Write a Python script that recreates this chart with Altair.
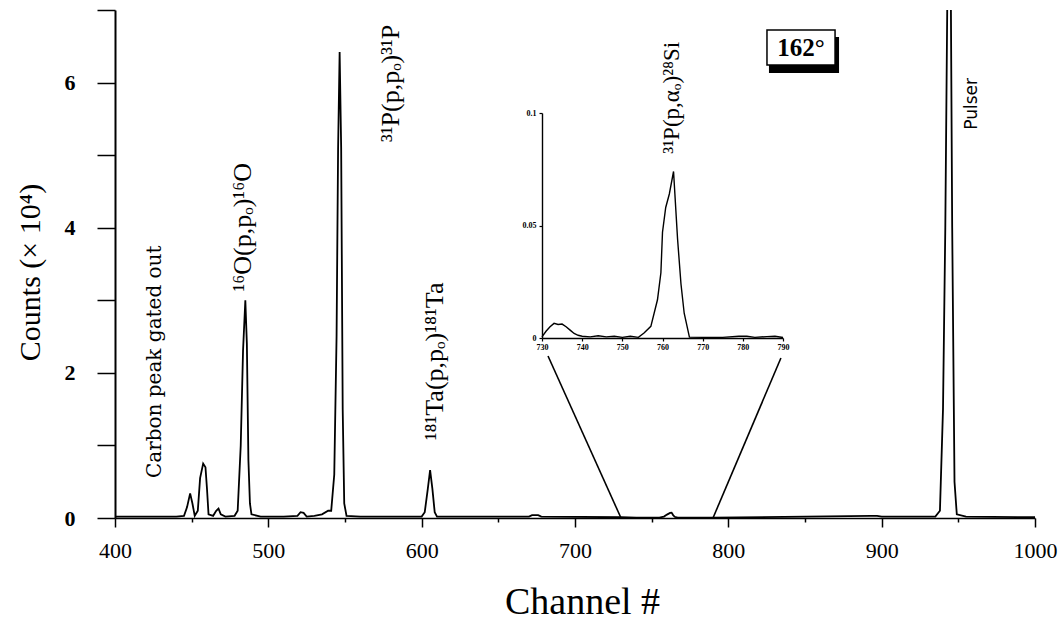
import altair as alt
import pandas as pd

# ---------------- data ----------------
# main spectrum: channel, counts (x 10^4)
main_channel = [400, 420, 440, 445, 447, 449, 450.5, 452, 454, 455.5, 457.5, 459, 460, 461,
                464, 466, 467.5, 469, 472, 478, 480, 482, 483.5, 485, 486, 487, 488, 489,
                495, 510, 519, 521, 523, 525, 530, 535, 539, 541, 543, 544.5, 545.5, 546.5,
                547.5, 548.5, 549.5, 551, 560, 600, 602, 604, 605.5, 607, 608.5, 610, 670,
                672, 676, 678, 730, 740, 755, 758, 760, 762, 763, 764, 765, 767, 790, 893,
                897, 900, 935, 938, 940, 941.5, 943, 945, 946, 947.5, 949, 955, 1000]
main_counts = [0.02, 0.02, 0.02, 0.03, 0.15, 0.34, 0.2, 0.03, 0.1, 0.55, 0.75, 0.7, 0.4, 0.05,
               0.03, 0.1, 0.13, 0.05, 0.02, 0.03, 0.1, 1.0, 2.3, 3.0, 2.4, 0.8, 0.2, 0.05,
               0.02, 0.02, 0.03, 0.08, 0.07, 0.02, 0.03, 0.05, 0.1, 0.1, 0.6, 2.5, 5.1, 6.42,
               5.1, 1.5, 0.2, 0.03, 0.02, 0.02, 0.08, 0.4, 0.66, 0.4, 0.08, 0.02, 0.02,
               0.04, 0.04, 0.02, 0.01, 0.005, 0.005, 0.02, 0.047, 0.07, 0.074, 0.04, 0.017, 0.005, 0.005, 0.03,
               0.03, 0.02, 0.02, 0.1, 1.5, 4.0, 7.6, 7.6, 4.0, 0.5, 0.05, 0.02, 0.01]

# inset spectrum: channel, counts (x 10^4)
inset_channel = [730, 731, 732, 733, 734, 735, 736, 737, 738, 739, 740, 742, 744, 746, 748, 750,
                 752, 754, 755.4, 757.1, 758.75, 759.6, 760, 760.8, 761.7, 762.75, 763.75,
                 764.6, 765.4, 766.7, 770, 775, 779, 781, 783, 786, 788, 790]
inset_counts = [0.0005, 0.003, 0.005, 0.0065, 0.006, 0.0062, 0.005, 0.0035, 0.002, 0.0012, 0.0008,
                0.0005, 0.001, 0.0005, 0.0008, 0.0003, 0.0008, 0.0003, 0.0022, 0.0052, 0.017,
                0.029, 0.047, 0.058, 0.064, 0.074, 0.044, 0.024, 0.011, 0.0004, 0.0003, 0.0003,
                0.0008, 0.0008, 0.0003, 0.0006, 0.0008, 0.0002]

x_ticks = list(range(400, 1001, 50))
y_ticks = [0, 1, 2, 3, 4, 5, 6, 7]
inset_x_ticks = [730, 740, 750, 760, 770, 780, 790]
inset_y_ticks = [0, 0.05, 0.1]

reaction_labels = ["¹⁶O(p,pₒ)¹⁶O", "³¹P(p,pₒ)³¹P", "¹⁸¹Ta(p,pₒ)¹⁸¹Ta"]
reaction_x = [483.5, 580.0, 608.5]
reaction_y = [3.12, 5.18, 1.07]

inset_reaction_label = ["³¹P(p,αₒ)²⁸Si"]
inset_reaction_x = [763.3]
inset_reaction_y = [5.02]

carbon_label = ["Carbon peak gated out"]
carbon_x = [426.1]
carbon_y = [0.55]

pulser_label = ["Pulser"]
pulser_x = [958.6]
pulser_y = [5.35]

angle_label = ["162°"]

# ---------------- layout ----------------
W, H = 920, 508
FONT = "Liberation Serif"

main_df = pd.DataFrame({"x": main_channel, "y": main_counts})
inset_df = pd.DataFrame({"ix": inset_channel, "iy": inset_counts})

xs = alt.Scale(domain=[400, 1000], nice=False, zero=False)
ys = alt.Scale(domain=[0, 7], nice=False, zero=True)

x_axis = alt.Axis(
    values=x_ticks, format="d",
    labelExpr="datum.value % 100 == 0 ? datum.label : ''",
    tickSize={"condition": {"test": "datum.value % 100 == 0", "value": 9}, "value": 4},
    labelFont=FONT, labelFontSize=22, labelColor="black", labelPadding=13,
    labelFlush=False, labelOverlap=False,
    tickColor="black", tickWidth=1.5, domainColor="black", domainWidth=1.5,
    grid=False, title="Channel #", titleFont=FONT, titleFontSize=38,
    titleFontWeight="normal", titleColor="black", titleX=467, titleY=95,
    titleBaseline="alphabetic",
)
y_axis = alt.Axis(
    values=y_ticks, format="d", labelExpr="datum.value % 2 == 0 ? datum.label : ''",
    tickSize=18, labelFont=FONT, labelFontSize=22, labelFontWeight="bold",
    labelColor="black", labelPadding=22, labelFlush=False, labelOverlap=False,
    tickColor="black", tickWidth=1.5, domainColor="black", domainWidth=2,
    grid=False, title="Counts (× 10⁴)", titleFont=FONT, titleFontSize=30,
    titleFontWeight="normal", titleColor="black", titleX=-85, titleY=262,
    titleBaseline="middle", titleAngle=270,
)

line = alt.Chart(main_df).mark_line(color="black", strokeWidth=1.8, clip=True).encode(
    x=alt.X("x:Q", scale=xs, axis=x_axis),
    y=alt.Y("y:Q", scale=ys, axis=y_axis),
)

conn_df = pd.DataFrame({"x": [682.4, 834.3], "y": [2.232, 2.205],
                        "x2": [730, 790], "y2": [0, 0]})
connectors = alt.Chart(conn_df).mark_rule(color="black", strokeWidth=1.6).encode(
    x="x:Q", y="y:Q", x2="x2:Q", y2="y2:Q")

react_df = pd.DataFrame({"x": reaction_x, "y": reaction_y, "t": reaction_labels})
react = alt.Chart(react_df).mark_text(angle=270, align="left", baseline="middle",
                                      font=FONT, fontSize=26, color="black").encode(
    x="x:Q", y="y:Q", text="t:N")

ireact_df = pd.DataFrame({"x": inset_reaction_x, "y": inset_reaction_y,
                          "t": inset_reaction_label})
ireact = alt.Chart(ireact_df).mark_text(angle=270, align="left", baseline="middle",
                                        font=FONT, fontSize=23, color="black").encode(
    x="x:Q", y="y:Q", text="t:N")

carbon_df = pd.DataFrame({"x": carbon_x, "y": carbon_y, "t": carbon_label})
carbon = alt.Chart(carbon_df).mark_text(angle=270, align="left", baseline="middle",
                                        font="DejaVu Serif", fontSize=20, color="black").encode(
    x="x:Q", y="y:Q", text="t:N")

pulser_df = pd.DataFrame({"x": pulser_x, "y": pulser_y, "t": pulser_label})
pulser = alt.Chart(pulser_df).mark_text(angle=270, align="left", baseline="middle",
                                        font="DejaVu Sans", fontSize=17, color="black").encode(
    x="x:Q", y="y:Q", text="t:N")

shadow_df = pd.DataFrame({"x": [826.5], "x2": [872.2], "y": [6.628], "y2": [6.132]})
shadow = alt.Chart(shadow_df).mark_rect(color="black").encode(
    x="x:Q", x2="x2:Q", y="y:Q", y2="y2:Q")
box_df = pd.DataFrame({"x": [825.2], "x2": [869.6], "y": [6.724], "y2": [6.242]})
box = alt.Chart(box_df).mark_rect(fill="white", stroke="black", strokeWidth=1.5).encode(
    x="x:Q", x2="x2:Q", y="y:Q", y2="y2:Q")
box_text_df = pd.DataFrame({"x": [847.4], "y": [6.47], "t": angle_label})
box_text = alt.Chart(box_text_df).mark_text(font=FONT, fontSize=25, fontWeight="bold",
                                            color="black", align="center",
                                            baseline="middle").encode(
    x="x:Q", y="y:Q", text="t:N")

main = alt.layer(line, connectors, react, ireact, carbon, pulser, shadow, box, box_text)

inset_axis_common = dict(
    labelFont=FONT, labelFontSize=8, labelFontWeight="bold", labelColor="black",
    tickColor="black", tickWidth=1.2, domainColor="black", domainWidth=1.4,
    grid=False, title=None, labelFlush=False, labelOverlap=False,
)
inset = alt.Chart(inset_df).mark_line(color="black", strokeWidth=1.4).encode(
    x=alt.X("ix:Q",
            scale=alt.Scale(domain=[730, 790], range=[427, 668], nice=False, zero=False),
            axis=alt.Axis(orient="bottom", offset=-180, values=inset_x_ticks, format="d",
                          tickSize=3, labelPadding=2, **inset_axis_common)),
    y=alt.Y("iy:Q",
            scale=alt.Scale(domain=[0, 0.1], range=[328, 103], nice=False, zero=True),
            axis=alt.Axis(orient="left", offset=-427, values=inset_y_ticks, format="~g",
                          tickSize=3, labelPadding=3, **inset_axis_common)),
)

chart = alt.layer(main, inset).resolve_scale(x="independent", y="independent").properties(
    width=W, height=H,
    autosize=alt.AutoSizeParams(type="none"),
    padding={"left": 115, "top": 10, "right": 28, "bottom": 107},
    background="white",
).configure_view(stroke=None)

chart.save("out.html", embed_options={"renderer": "svg", "actions": False})
